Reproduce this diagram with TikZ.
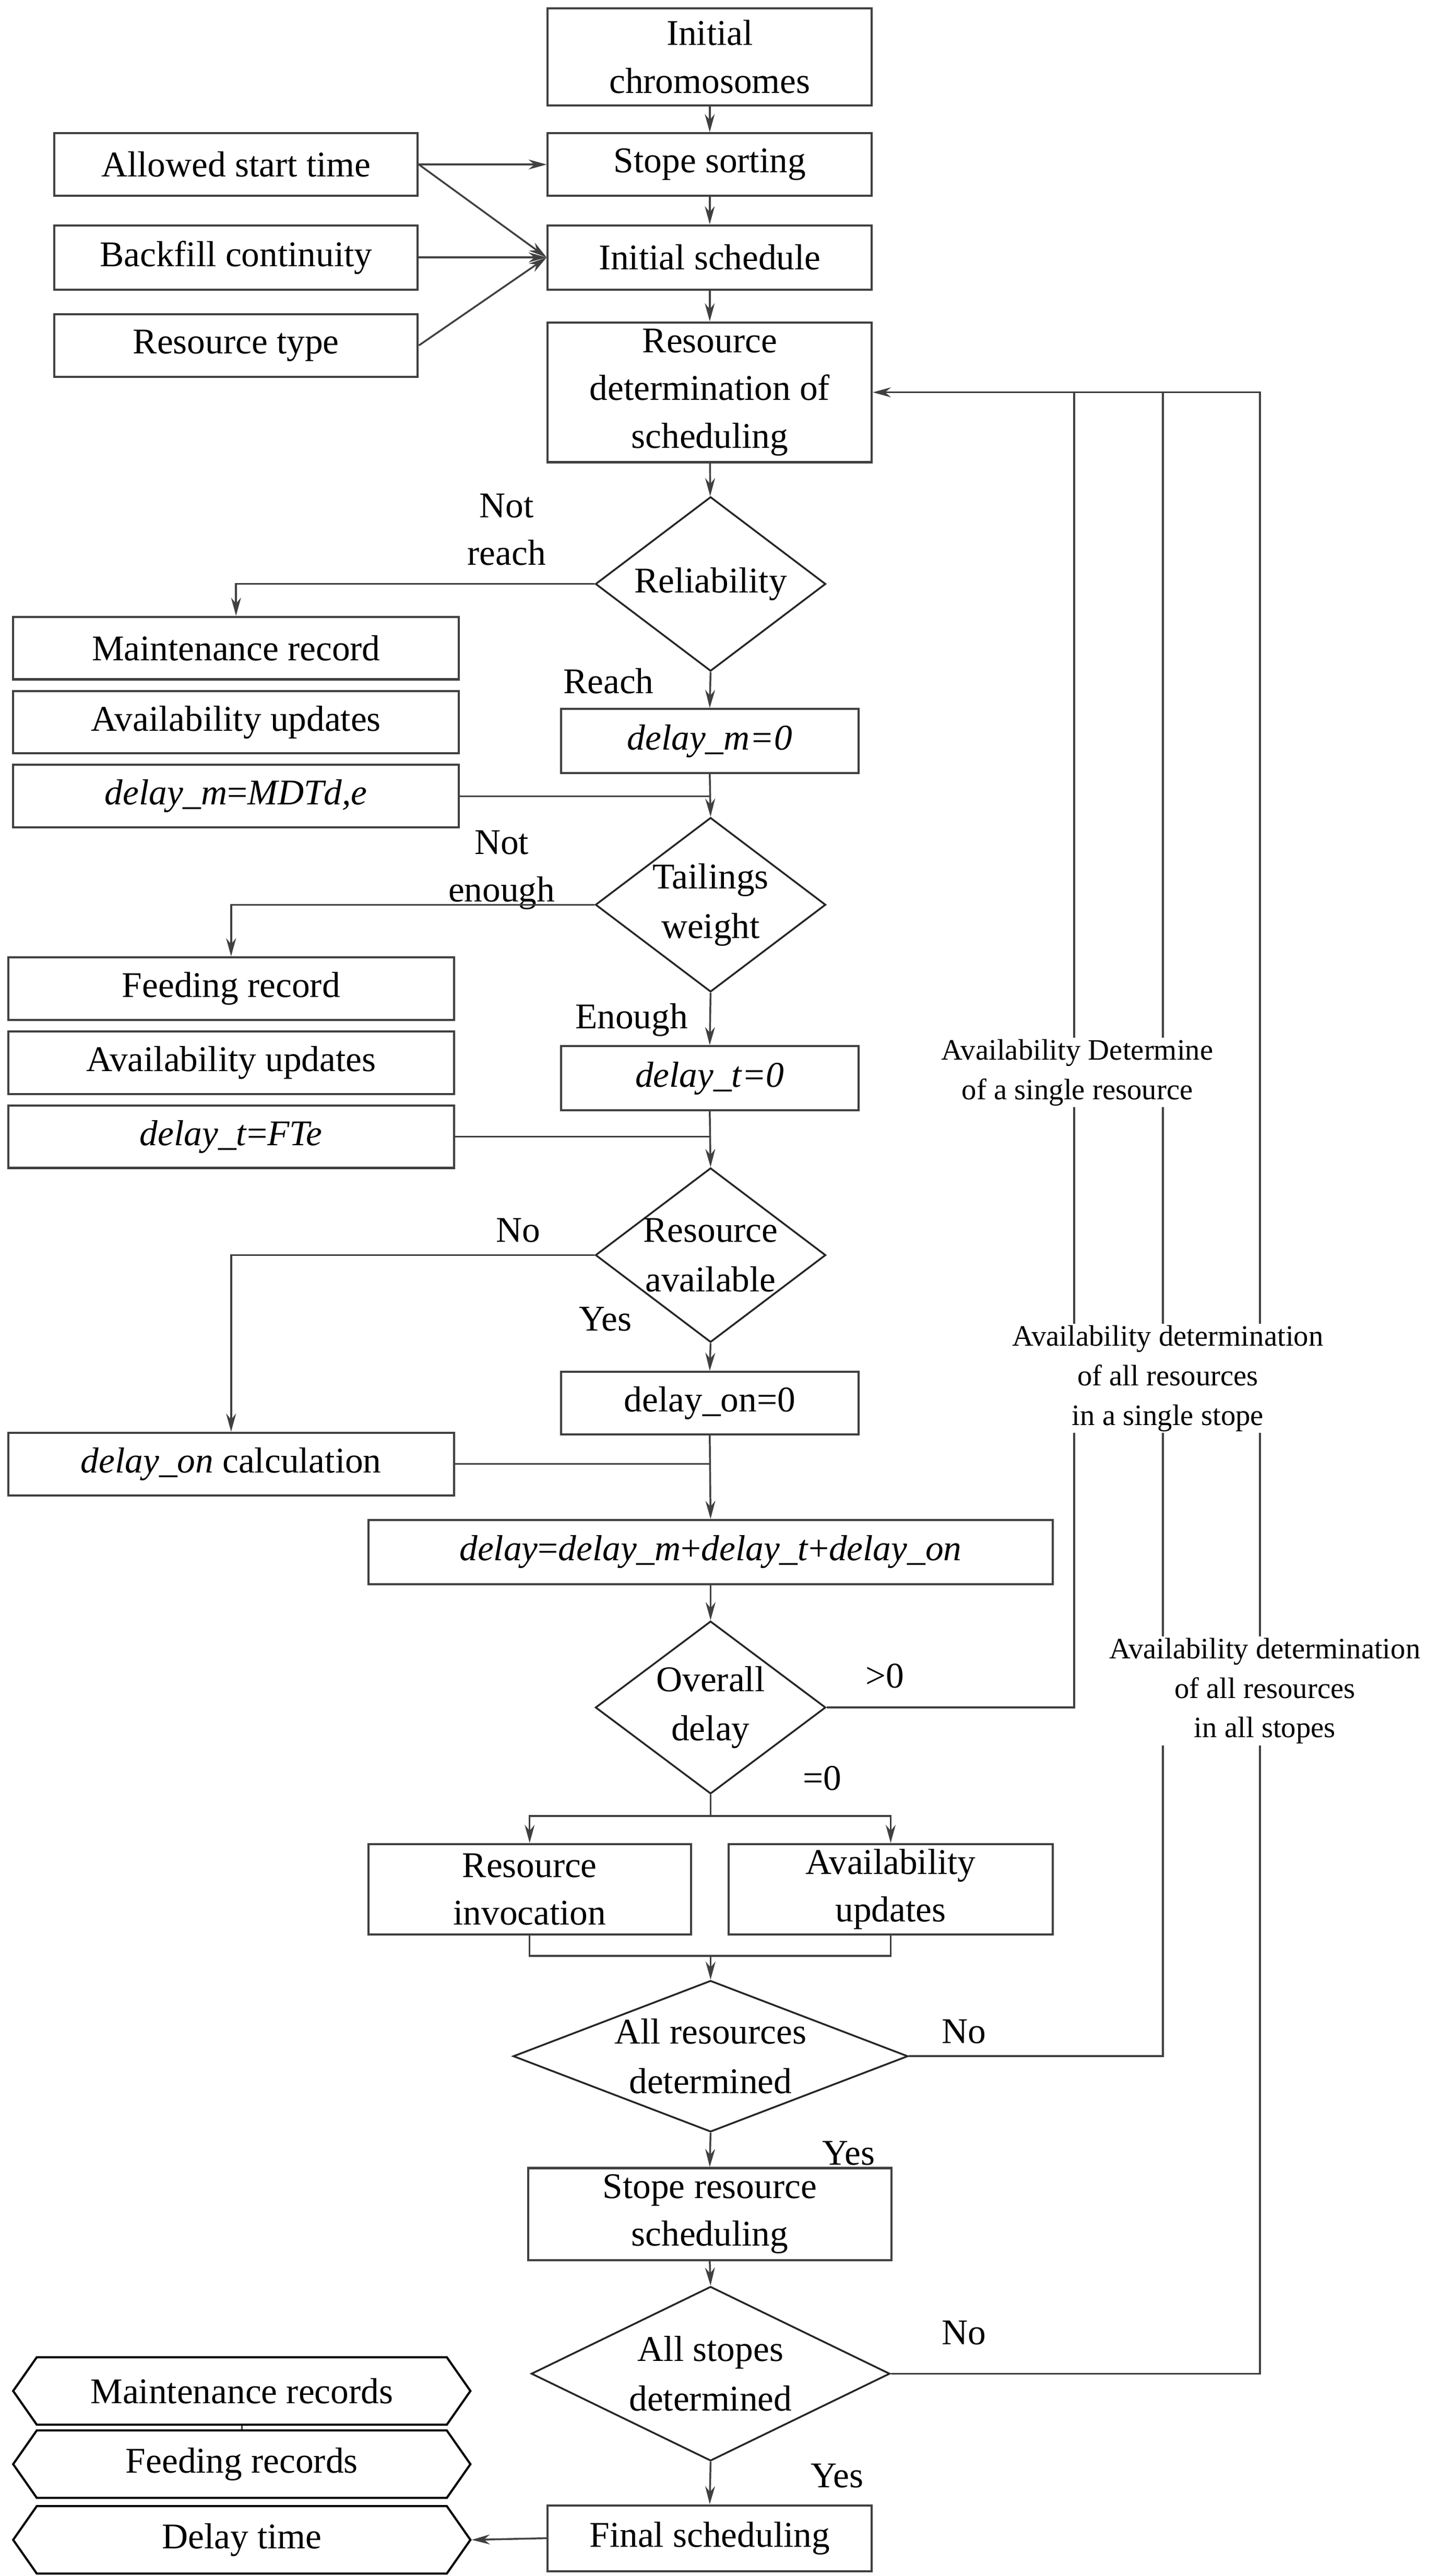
\documentclass[tikz,border=0pt]{standalone}
\usepackage{fontspec}
\setmainfont{Liberation Serif}
\usetikzlibrary{shapes.geometric,shapes.symbols,arrows.meta}
\begin{document}
\begin{tikzpicture}[x=1pt,y=-1pt,
  line width=1.1pt, draw=black!75,
  box/.style={draw=black!75,line width=1.3pt,inner sep=0pt,font=\fontsize{22}{29}\selectfont,align=center},
  dia/.style={draw=black!85,diamond,inner sep=0pt,line width=1.1pt},
  dtxt/.style={font=\fontsize{22}{30}\selectfont,align=center,inner sep=0pt},
  hex/.style={draw=black,line width=1.3pt,signal,signal to=west and east,signal pointer angle=110,inner sep=0pt,minimum width=278pt,minimum height=41pt,font=\fontsize{22}{29}\selectfont},
  lab/.style={font=\fontsize{22}{29}\selectfont,inner sep=0pt},
  rlab/.style={font=\fontsize{18}{24}\selectfont,align=center,fill=white,inner sep=1pt},
  arr/.style={draw=black!75,-{Stealth[length=11pt,width=6pt]}}]
\useasboundingbox (0,0) rectangle (882,1566);
% main column
\node[box,minimum width=197pt,minimum height=59pt] (ic) at (431.5,34.5) {Initial\\chromosomes};
\node[box,minimum width=197pt,minimum height=38pt] (ss) at (431.5,100) {Stope sorting};
\node[box,minimum width=197pt,minimum height=39pt] (is) at (431.5,156.5) {Initial schedule};
\node[box,minimum width=197pt,minimum height=85pt] (rd) at (431.5,238.5) {Resource\\determination of\\scheduling};
\node[box,minimum width=221pt,minimum height=38pt] (ast) at (143.5,100) {Allowed start time};
\node[box,minimum width=221pt,minimum height=39pt] (bc) at (143.5,156.5) {Backfill continuity};
\node[box,minimum width=221pt,minimum height=38pt] (rt) at (143.5,210) {Resource type};
% reliability
\node[dia,minimum width=140pt,minimum height=106pt] (rel) at (432,355) {};
\node[dtxt] at (rel) {Reliability};
\node[box,minimum width=271pt,minimum height=38pt] (mr) at (143.5,394) {Maintenance record};
\node[box,minimum width=271pt,minimum height=38pt] (au1) at (143.5,439) {Availability updates};
\node[box,minimum width=271pt,minimum height=38pt] (dmm) at (143.5,484) {\textit{delay\_m}=\textit{MDTd,e}};
\node[box,minimum width=181pt,minimum height=39pt] (dm0) at (431.5,450.5) {\textit{delay\_m=0}};
% tailings
\node[dia,minimum width=140pt,minimum height=106pt] (tw) at (432,550) {};
\node[dtxt] at (tw) {Tailings\\weight};
\node[box,minimum width=271pt,minimum height=38pt] (fr) at (140.5,601) {Feeding record};
\node[box,minimum width=271pt,minimum height=38pt] (au2) at (140.5,646) {Availability updates};
\node[box,minimum width=271pt,minimum height=38pt] (dtf) at (140.5,691) {\textit{delay\_t}=\textit{FTe}};
\node[box,minimum width=181pt,minimum height=39pt] (dt0) at (431.5,655.5) {\textit{delay\_t=0}};
% resource available
\node[dia,minimum width=140pt,minimum height=106pt] (ra) at (432,763) {};
\node[dtxt] at (ra) {Resource\\available};
\node[box,minimum width=271pt,minimum height=38pt] (doc) at (140.5,890) {\textit{delay\_on} calculation};
\node[box,minimum width=181pt,minimum height=38pt] (do0) at (431.5,853) {delay\_on=0};
\node[box,minimum width=416pt,minimum height=39pt] (dly) at (432,943.5) {\textit{delay}=\textit{delay\_m}+\textit{delay\_t}+\textit{delay\_on}};
% overall delay
\node[dia,minimum width=140pt,minimum height=105pt] (od) at (432,1038) {};
\node[dtxt] at (od) {Overall\\delay};
\node[box,minimum width=196pt,minimum height=55pt] (ri) at (322,1148.5) {Resource\\invocation};
\node[box,minimum width=197pt,minimum height=55pt] (au3) at (541.5,1148.5) {Availability\\updates};
\node[dia,minimum width=240pt,minimum height=92pt] (ard) at (432,1250) {};
\node[dtxt] at (ard) {All resources\\determined};
\node[box,minimum width=221pt,minimum height=56pt] (srs) at (431.5,1346) {Stope resource\\scheduling};
\node[dia,minimum width=218pt,minimum height=106pt] (asd) at (432,1443) {};
\node[dtxt] at (asd) {All stopes\\determined};
\node[box,minimum width=197pt,minimum height=40pt] (fs) at (431.5,1543) {Final scheduling};
% hexagons
\node[hex] (hm) at (147,1453.5) {Maintenance records};
\node[hex] (hf) at (147,1498) {Feeding records};
\node[hex] (hd) at (147,1544) {Delay time};
% labels
\node[lab,align=center] at (308,322) {Not\\reach};
\node[lab] at (370,414) {Reach};
\node[lab,align=center] at (305,529) {Not\\enough};
\node[lab] at (384,620) {Enough};
\node[lab] at (315,748) {No};
\node[lab] at (368,802) {Yes};
\node[lab] at (538,1019) {>0};
\node[lab] at (500,1081) {=0};
\node[lab] at (586,1235) {No};
\node[lab] at (516,1309) {Yes};
\node[lab] at (586,1418) {No};
\node[lab] at (509,1505) {Yes};
% coordinates
\coordinate (j1) at (653,238.5);
\coordinate (j2) at (707,238.5);
\coordinate (j3) at (766,238.5);
\coordinate (s1) at (432,1104);
\coordinate (m1) at (432,1189);
% connectors
\draw[arr] (ic) -- (ss);
\draw[arr] (ss) -- (is);
\draw[arr] (is) -- (rd);
\draw[arr] (ast.east) -- (ss.west);
\draw[arr] (ast.east) -- (is.west);
\draw[arr] (bc.east) -- (is.west);
\draw[arr] (rt.east) -- (is.west);
\draw[arr] (rd) -- (rel);
\draw[arr] (rel.west) -| (mr.north);
\draw[arr] (rel.south) -- (dm0.north);
\draw (dmm.east) -- (dm0.south |- dmm.east);
\draw[arr] (dm0.south) -- (tw.north);
\draw[arr] (tw.west) -| (fr.north);
\draw[arr] (tw.south) -- (dt0.north);
\draw (dtf.east) -- (dt0.south |- dtf.east);
\draw[arr] (dt0.south) -- (ra.north);
\draw[arr] (ra.west) -| (doc.north);
\draw[arr] (ra.south) -- (do0.north);
\draw (doc.east) -- (do0.south |- doc.east);
\draw[arr] (do0.south) -- (dly.north);
\draw[arr] (dly.south) -- (od.north);
\draw (ard.east) -| (j2) -- (j1);
\draw (asd.east) -| (j3) -- (j2);
\draw[arr] (od.east) -| (j1) -- (rd.east);
\draw (od.south) -- (s1);
\draw[arr] (s1) -| (ri.north);
\draw[arr] (s1) -| (au3.north);
\draw (ri.south) |- (m1) -| (au3.south);
\draw[arr] (m1) -- (ard.north);
\draw[arr] (ard.south) -- (srs.north);
\draw[arr] (srs.south) -- (asd.north);
\draw[arr] (asd.south) -- (fs.north);
\draw[arr] (fs.west) -- (hd.east);
\draw (hm.south) -- (hf.north);
% right labels
\node[rlab] at (655,652) {Availability Determine\\of a single resource};
\node[rlab] at (710,838) {Availability determination\\of all resources\\in a single stope};
\node[rlab] at (769,1028) {Availability determination\\of all resources\\in all stopes};
\end{tikzpicture}
\end{document}
